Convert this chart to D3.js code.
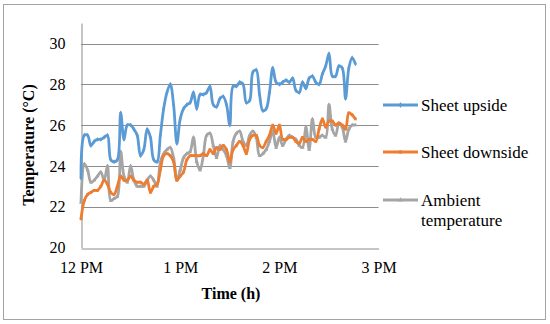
<!DOCTYPE html>
<html>
<head>
<meta charset="utf-8">
<script src="https://d3js.org/d3.v7.min.js"></script>
<title>Temperature chart</title>
<style>
body { margin: 0; background: #fff; }
svg { display: block; }
svg text { font-family: "Liberation Serif", "Times New Roman", Times, "Nimbus Roman", "DejaVu Serif", serif; }
</style>
</head>
<body>
<svg width="550" height="324"></svg>
<script>

// minutes after 12 PM
let minutes = [0,2,4,6,8,10,12,14,16,18,20,22,24,26,28,30,32,34,36,38,
  40,42,44,46,48,50,52,54,56,58,60,62,64,66,68,70,72,74,76,78,
  80,82,84,86,88,90,92,94,96,98,100,102,104,106,108,110,112,114,116,118,
  120,122,124,126,128,130,132,134,136,138,140,142,144,146,148,150,152,154,156,158,
  160,162,164,166];

let sheetUpside = [23.4,25.5,25.5,25.0,25.2,25.3,25.3,25.4,25.5,24.3,
  24.2,24.3,26.6,25.3,26.0,26.0,25.8,25.5,24.5,24.8,
  25.8,25.4,24.3,24.2,25.5,26.8,27.6,28.0,27.0,25.1,
  26.3,26.8,27.0,27.1,27.6,26.8,27.5,27.5,27.6,27.9,
  27.0,26.9,27.3,27.4,27.0,26.0,27.9,27.9,28.1,28.0,
  27.1,27.2,28.6,28.7,27.5,26.7,26.8,27.6,28.8,28.1,
  28.0,28.1,28.2,28.1,28.3,27.7,27.6,28.1,27.8,28.3,
  28.4,28.1,28.0,28.5,28.9,29.5,28.4,28.4,28.9,28.8,
  27.3,28.8,29.3,29.0];

let sheetDownside = [21.4,22.3,22.6,22.7,22.8,22.8,23.0,23.3,23.1,22.7,
  22.6,23.0,23.5,23.3,23.3,23.5,23.3,23.2,23.2,23.1,
  23.3,22.7,23.0,23.1,23.8,24.5,24.6,24.5,24.2,23.3,
  23.5,23.7,24.3,24.5,24.5,24.5,24.5,24.6,24.5,24.8,
  24.6,24.9,24.8,25.0,24.8,24.2,24.8,25.0,25.2,25.0,
  24.6,25.3,25.5,25.5,25.0,24.9,25.2,25.5,26.0,25.6,
  26.0,25.3,25.3,25.4,25.4,25.2,25.1,25.4,25.2,25.3,
  25.3,25.2,25.8,26.3,25.9,26.2,26.2,26.0,26.1,26.0,
  25.8,26.6,26.5,26.3];

let ambient = [22.2,24.1,23.8,23.2,23.3,23.5,23.7,23.3,24.0,22.3,
  22.4,22.5,24.7,23.5,23.2,24.0,23.3,23.0,23.0,23.0,
  23.3,23.5,23.3,23.0,24.2,24.6,24.8,24.9,24.4,23.3,
  23.8,24.4,24.6,24.7,25.4,24.2,23.8,24.5,25.5,25.6,
  25.0,24.4,25.0,24.8,24.5,23.9,25.2,25.6,25.7,25.2,
  25.0,25.5,25.7,25.4,24.5,24.6,24.8,25.2,25.7,24.9,
  25.4,25.0,25.3,25.5,25.4,25.3,25.0,24.9,25.9,24.8,
  26.3,25.4,25.4,25.5,25.4,27.0,25.8,25.5,26.1,25.9,
  25.2,25.8,26.0,26.0];

let seriesNames = ["Sheet upside", "Sheet downside", "Ambient temperature"];
let xTicks = [0, 60, 120, 180];
let xTickLabels = ["12 PM", "1 PM", "2 PM", "3 PM"];
let yTicks = [20, 22, 24, 26, 28, 30];

let colors = ["#5b9bd5", "#ed7d31", "#a5a5a5"];
let symbols = [d3.symbolDiamond, d3.symbolSquare, d3.symbolTriangle];
let gridColor = "#8c8c8c";

let svg = d3.select("svg");

// outer frame
svg.append("rect")
  .attr("x", 3.5).attr("y", 4.5)
  .attr("width", 542).attr("height", 315)
  .attr("fill", "none")
  .attr("stroke", "#a3a3a3");

let x = d3.scaleLinear().domain([0, 180]).range([81, 378.6]);
let y = d3.scaleLinear().domain([20, 31]).range([247.5, 23.1]);

// horizontal gridlines
svg.append("g").selectAll("line")
  .data(yTicks.filter(function(d){ return d > 20; }))
  .enter().append("line")
    .attr("x1", x(0)).attr("x2", x(180))
    .attr("y1", function(d){ return Math.round(y(d)) + 0.5; })
    .attr("y2", function(d){ return Math.round(y(d)) + 0.5; })
    .attr("stroke", gridColor)
    .attr("stroke-width", 1);

// axes
let xAxis = d3.axisBottom(x)
  .tickValues(xTicks)
  .tickSize(0)
  .tickPadding(13)
  .tickFormat(function(d, i){ return xTickLabels[i]; });

let yAxis = d3.axisLeft(y)
  .tickValues(yTicks)
  .tickSize(0)
  .tickPadding(16);

let gx = svg.append("g")
  .attr("transform", "translate(0," + (Math.round(y(20)) + 0.5) + ")")
  .call(xAxis);
let gy = svg.append("g")
  .attr("transform", "translate(" + (Math.round(x(0)) + 0.5) + ",0)")
  .call(yAxis);

[gx, gy].forEach(function(g){
  g.attr("font-family", null);
  g.select(".domain").attr("stroke", gridColor);
  g.selectAll("text")
    .attr("font-size", 16)
    .attr("fill", "#000");
});

// axis titles
svg.append("text")
  .attr("x", 231).attr("y", 299)
  .attr("text-anchor", "middle")
  .attr("font-weight", "bold")
  .attr("font-size", 16)
  .text("Time (h)");

svg.append("text")
  .attr("transform", "translate(34,145) rotate(-90)")
  .attr("text-anchor", "middle")
  .attr("font-weight", "bold")
  .attr("font-size", 16)
  .text("Temperature (°C)");

// lines
let series = [sheetUpside, sheetDownside, ambient];
let line = d3.line()
  .x(function(d, i){ return x(minutes[i]); })
  .y(function(d){ return y(d); })
  .curve(d3.curveCatmullRom);

// gray first so orange and blue sit on top
[2, 1, 0].forEach(function(s){
  let g = svg.append("g");
  g.append("path")
    .datum(series[s])
    .attr("d", line)
    .attr("fill", "none")
    .attr("stroke", colors[s])
    .attr("stroke-width", 2.8)
    .attr("stroke-linejoin", "round");
  g.selectAll("path.mark")
    .data(series[s])
    .enter().append("path")
      .attr("class", "mark")
      .attr("d", d3.symbol().type(symbols[s]).size(7))
      .attr("transform", function(d, i){
        return "translate(" + x(minutes[i]) + "," + y(d) + ")";
      })
      .attr("fill", colors[s]);
});

// legend
let legendY = [105, 152, 200];
let legend = svg.append("g");
seriesNames.forEach(function(name, i){
  let row = legend.append("g").attr("transform", "translate(0," + legendY[i] + ")");
  row.append("line")
    .attr("x1", 383).attr("x2", 418)
    .attr("stroke", colors[i])
    .attr("stroke-width", 2.8);
  row.append("path")
    .attr("d", d3.symbol().type(symbols[i]).size(10))
    .attr("transform", "translate(400.5,0)")
    .attr("fill", colors[i]);
  let words = i == 2 ? ["Ambient", "temperature"] : [name];
  words.forEach(function(w, k){
    row.append("text")
      .attr("x", 421)
      .attr("y", 6 + k * 20)
      .attr("font-size", 17)
      .text(w);
  });
});

</script>
</body>
</html>
